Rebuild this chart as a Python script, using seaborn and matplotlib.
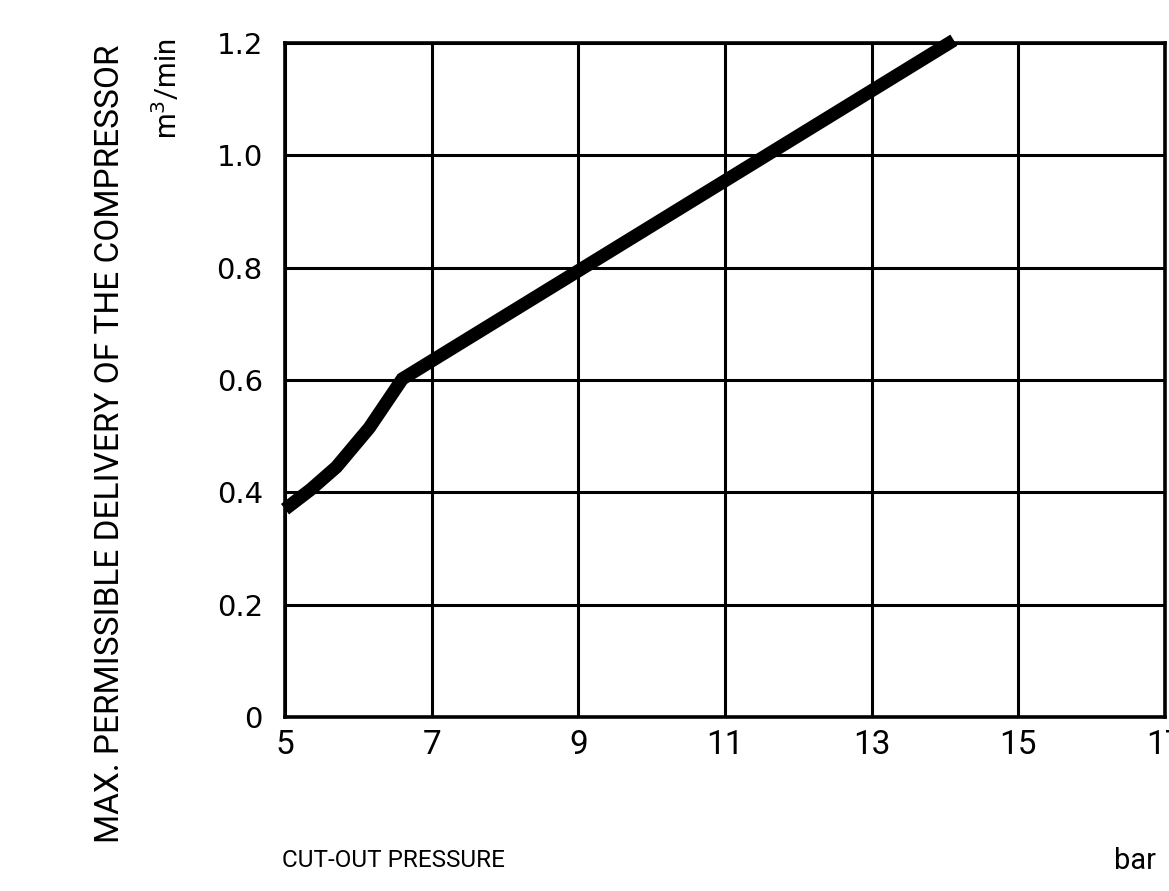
import seaborn as sns
import matplotlib.pyplot as plt
import pandas as pd

# curve (cut-out pressure in bar, delivery in m3/min)
pressure = [5.0, 5.35, 5.7, 6.15, 6.6, 14.12]
delivery = [0.37, 0.405, 0.445, 0.515, 0.602, 1.205]

x_ticks = [5, 7, 9, 11, 13, 15, 17]
y_ticks = [0, 0.2, 0.4, 0.6, 0.8, 1.0, 1.2]
y_tick_labels = ["0", "0.2", "0.4", "0.6", "0.8", "1.0", "1.2"]

df = pd.DataFrame({"pressure": pressure, "delivery": delivery})

sns.set_theme(style="white")
narrow = ["Roboto", "DejaVu Sans"]
plt.rcParams["font.family"] = ["DejaVu Sans"]

fig = plt.figure(figsize=(11.69, 8.91), dpi=100)
ax = fig.add_axes([0.2438, 0.1953, 0.9966 - 0.2438, 0.9517 - 0.1953])

sns.lineplot(data=df, x="pressure", y="delivery", ax=ax, color="black",
             linewidth=9.5, solid_capstyle="butt", solid_joinstyle="miter",
             clip_on=False, zorder=5)

ax.set_xlim(5, 17)
ax.set_ylim(0, 1.2)
ax.set_xticks(x_ticks)
ax.set_yticks(y_ticks)
ax.set_xticklabels([str(t) for t in x_ticks], fontsize=24, family=narrow)
ax.set_yticklabels(y_tick_labels, fontsize=21)
ax.tick_params(length=0, colors="black")
ax.tick_params(axis="x", pad=9)
ax.tick_params(axis="y", pad=16)

ax.grid(True, color="black", linewidth=2.2)
for s in ax.spines.values():
    s.set_visible(True)
    s.set_color("black")
    s.set_linewidth(2.6)

ax.set_xlabel("")
ax.set_ylabel("")

fig.text(0.094, 0.502, "MAX. PERMISSIBLE DELIVERY OF THE COMPRESSOR",
         rotation=90, ha="center", va="center", fontsize=24, family=narrow,
         color="black")
fig.text(0.143, 0.9, "m$^3$/min", rotation=90, ha="center", va="center",
         fontsize=21, family=narrow, color="black")
fig.text(0.241, 0.034, "CUT-OUT PRESSURE", ha="left", va="center",
         fontsize=17.5, family=narrow, color="black")
fig.text(0.953, 0.034, "bar", ha="left", va="center",
         fontsize=21, family=narrow, color="black")

fig.savefig("out.png", dpi=100)
